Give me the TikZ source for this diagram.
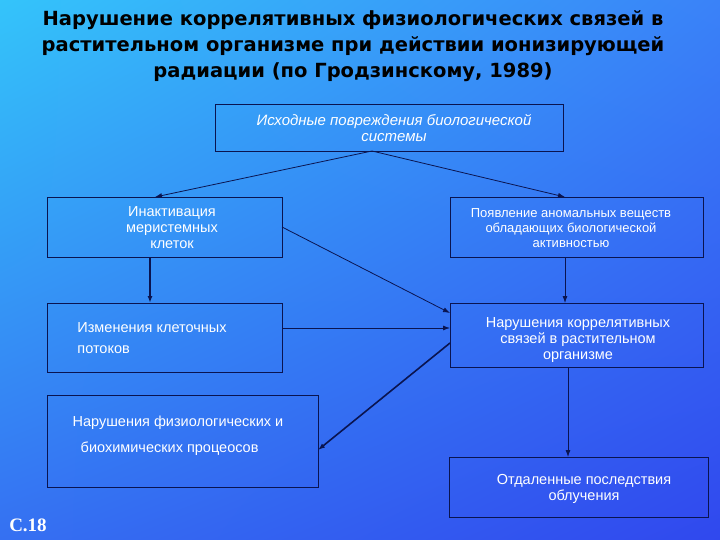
\documentclass[tikz,border=0pt]{standalone}
\usepackage{fontspec}
\setmainfont{Liberation Sans}
\newfontfamily\titlefont{DejaVu Sans}
\newfontfamily\serifbold{Liberation Serif}
\usetikzlibrary{arrows.meta,shadings}
\definecolor{bgA}{HTML}{34C4FA}
\definecolor{bgB}{HTML}{3A82F8}
\definecolor{bgC}{HTML}{3570F2}
\definecolor{bgD}{HTML}{3048EE}
\definecolor{edge}{HTML}{0A1450}
\tikzset{
  box/.style={draw=edge, line width=0.8pt, inner sep=0pt},
  btxt/.style={text=white, font=\fontsize{14.5}{16}\selectfont, align=center},
  conn/.style={draw=edge, line width=0.8pt, -{Latex[length=7pt,width=5pt]}},
  thick conn/.style={conn, line width=1.6pt}
}
\begin{document}
\begin{tikzpicture}[x=1pt,y=-1pt]
\shade[upper left=bgA, upper right=bgB, lower left=bgC, lower right=bgD] (0,0) rectangle (720,540);
\useasboundingbox (0,0) rectangle (720,540);
\node[font=\titlefont\bfseries\fontsize{19.5}{26}\selectfont, align=center, text=black] (title) at (353,46)
 {Нарушение коррелятивных физиологических связей в\\растительном организме при действии ионизирующей\\радиации (по Гродзинскому, 1989)};
% boxes
\draw[box] (215,104) rectangle (563,151); \coordinate (topB) at (372,151);
\node[btxt, font=\itshape\fontsize{15}{16}\selectfont] (t1) at (394,128) {Исходные повреждения биологической\\системы};
\draw[box] (47,197) rectangle (282,257);
\node[btxt] (t2) at (172,228) {Инактивация\\меристемных\\клеток};
\draw[box] (450,197) rectangle (703,257);
\node[btxt, font=\fontsize{13}{15}\selectfont] (t3) at (571,228) {Появление аномальных веществ\\обладающих биологической\\активностью};
\draw[box] (47,303) rectangle (282,372);
\node[btxt, align=left, font=\fontsize{14.5}{21}\selectfont] (t4) at (152,338) {Изменения клеточных\\потоков};
\draw[box] (450,303) rectangle (703,367);
\node[btxt] (t5) at (578,340) {Нарушения коррелятивных\\связей в растительном\\организме};
\draw[box] (47,395) rectangle (318,487);
\node[btxt, align=left, font=\fontsize{14.5}{26}\selectfont] (t6) at (178,436) {Нарушения физиологических и\\\ \ биохимических процеосов};
\draw[box] (449,457) rectangle (708,517);
\node[btxt] (t7) at (584,489) {Отдаленные последствия\\облучения};
\node[text=white, font=\serifbold\bfseries\fontsize{19}{20}\selectfont] (c18) at (28,525) {С.18};
% connector endpoints
\coordinate (a1) at (155,197); \coordinate (a2) at (565,197);
\coordinate (b1) at (150,257); \coordinate (b2) at (150,303);
\coordinate (c1) at (282,227); \coordinate (c2) at (450,313);
\coordinate (d1) at (282,328); \coordinate (d2) at (450,328);
\coordinate (e1) at (450,343); \coordinate (e2) at (318,450);
\coordinate (f1) at (565,257); \coordinate (f2) at (565,303);
\coordinate (g1) at (568,367); \coordinate (g2) at (568,457);
\draw[conn] (topB) -- (a1);
\draw[conn] (topB) -- (a2);
\draw[thick conn] (b1) -- (b2);
\draw[conn] (c1) -- (c2);
\draw[conn] (d1) -- (d2);
\draw[thick conn] (e1) -- (e2);
\draw[conn] (f1) -- (f2);
\draw[conn] (g1) -- (g2);
\end{tikzpicture}
\end{document}
